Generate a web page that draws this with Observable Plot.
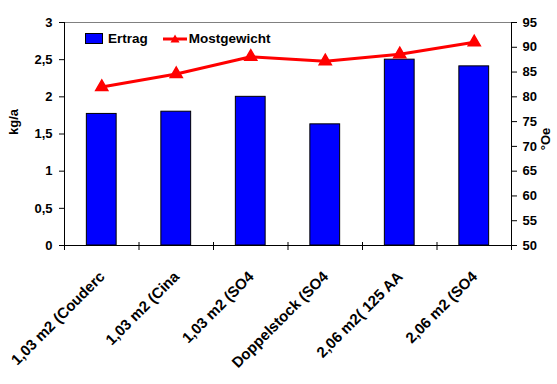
<!DOCTYPE html>
<html>
<head>
<meta charset="utf-8">
<script src="https://cdn.jsdelivr.net/npm/d3@7"></script>
<script src="https://cdn.jsdelivr.net/npm/@observablehq/plot@0.6"></script>
<style>
  html, body { margin: 0; padding: 0; background: #fff; }
  #wrap { position: relative; width: 557px; height: 384px; font-family: "Liberation Sans", Arial, sans-serif; }
  #legend { position: absolute; left: 85px; top: 31px; display: flex; align-items: center; font-size: 13.5px; font-weight: bold; color: #000; }
  #legend .sw { width: 16px; height: 9px; background: #0000ff; border: 1px solid #000; margin-right: 5px; }
  #legend .item { display: flex; align-items: center; margin-right: 15px; }
</style>
</head>
<body>
<div id="wrap"></div>
<script>
const categories = ["1,03 m2 (Couderc", "1,03 m2 (Cina", "1,03 m2 (SO4", "Doppelstock (SO4", "2,06 m2( 125 AA", "2,06 m2 (SO4"];
const ertrag = [1.77, 1.80, 2.00, 1.63, 2.50, 2.41];
const mostgewicht = [82.0, 84.6, 88.1, 87.2, 88.6, 91.0];
const leftTicks = [0, 0.5, 1, 1.5, 2, 2.5, 3];
const rightTicks = [50, 55, 60, 65, 70, 75, 80, 85, 90, 95];
const seriesNames = ["Ertrag", "Mostgewicht"];

// right axis (°Oe, 50–95) mapped onto the left scale (0–3)
const toLeft = v => (v - 50) / 15;
const fromLeft = y => Math.round(y * 15 + 50);

const data = categories.map((c, i) => ({i, cat: c, ertrag: ertrag[i], most: toLeft(mostgewicht[i])}));
const comma = d => String(d).replace(".", ",");
const font = {fontSize: 13, fontWeight: "bold", fill: "#000"};

const chart = Plot.plot({
  width: 557,
  height: 384,
  marginLeft: 64,
  marginRight: 46,
  marginTop: 22,
  marginBottom: 139,
  style: {fontFamily: "'Liberation Sans', Arial, sans-serif", background: "#fff", overflow: "visible"},
  x: {type: "linear", domain: [0, categories.length], axis: null},
  y: {domain: [0, 3], axis: null},
  marks: [
    Plot.ruleY([3], {stroke: "#808080", strokeWidth: 1}),
    Plot.rectY(data, {x1: d => d.i + 0.3, x2: d => d.i + 0.7, y: "ertrag", fill: "#0000ff", stroke: "#000", strokeWidth: 1}),
    Plot.ruleX([0, categories.length], {stroke: "#000", strokeWidth: 1}),
    Plot.ruleY([0], {stroke: "#000", strokeWidth: 1}),
    Plot.axisY(leftTicks, {anchor: "left", tickSize: 5, tickPadding: 7, tickFormat: comma, label: null, ...font}),
    Plot.axisY(rightTicks.map(toLeft), {anchor: "right", tickSize: 5, tickPadding: 6, tickFormat: d => fromLeft(d), label: null, ...font}),
    Plot.axisX(d3.range(categories.length + 1), {anchor: "bottom", tickSize: 8, dy: -3, tickFormat: () => "", label: null}),
    Plot.text(data, {x: d => d.i + 0.5, y: () => 0, text: "cat", rotate: -45, textAnchor: "end", lineAnchor: "bottom", dx: 4, dy: 32, ...font, fontSize: 15}),
    Plot.line(data, {x: d => d.i + 0.5, y: "most", stroke: "#ff0000", strokeWidth: 3}),
    Plot.dot(data, {x: d => d.i + 0.5, y: "most", symbol: "triangle", fill: "#ff0000", stroke: "#ff0000", r: 4.5}),
    Plot.text(["kg/a"], {frameAnchor: "left", textAnchor: "middle", text: d => d, rotate: -90, dx: -51, dy: -12, ...font}),
    Plot.text(["°Oe"], {frameAnchor: "right", textAnchor: "middle", text: d => d, rotate: -90, dx: 34, dy: 5, ...font})
  ]
});

const wrap = document.getElementById("wrap");
wrap.appendChild(chart);

const legend = document.createElement("div");
legend.id = "legend";
legend.innerHTML =
  `<div class="item"><div class="sw"></div><span>${seriesNames[0]}</span></div>` +
  `<div class="item"><svg width="24" height="10" style="margin-right:2px"><line x1="0" y1="5" x2="24" y2="5" stroke="#ff0000" stroke-width="3"/><path d="M12,0.5 L16.5,8.5 L7.5,8.5 Z" fill="#ff0000"/></svg><span>${seriesNames[1]}</span></div>`;
wrap.appendChild(legend);
</script>
</body>
</html>
